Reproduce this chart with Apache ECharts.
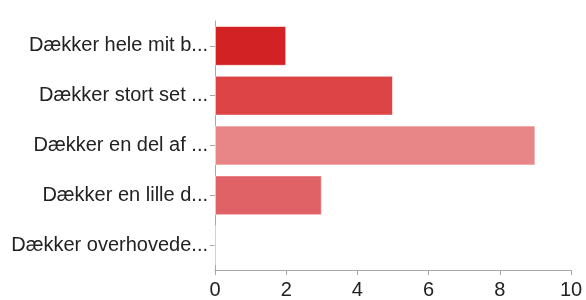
<!DOCTYPE html>
<html>
<head>
<meta charset="utf-8">
<script src="https://cdn.jsdelivr.net/npm/echarts@6/dist/echarts.min.js"></script>
<style>
  html, body { margin: 0; padding: 0; background: #fff; }
  #chart { width: 586px; height: 300px; }
</style>
</head>
<body>
<div id="chart"></div>
<script>
// svar-kategorier (afkortet som i originalen)
var categories = [
    'Dækker hele mit b...',
    'Dækker stort set ...',
    'Dækker en del af ...',
    'Dækker en lille d...',
    'Dækker overhovede...'
];
var counts = [2, 5, 9, 3, 0];
var barColors = ['#d32224', '#dc4446', '#e88586', '#e06266', '#e06266'];
var xTicks = [0, 2, 4, 6, 8, 10];

var chart = echarts.init(document.getElementById('chart'));

var barData = [];
for (var i = 0; i < counts.length; i++) {
    barData.push({
        value: counts[i],
        itemStyle: {
            color: barColors[i],
            borderColor: 'rgba(255,255,255,0.55)',
            borderWidth: 1
        }
    });
}

var option = {
    animation: false,
    grid: {
        left: 215,
        right: 15,
        top: 21,
        bottom: 25
    },
    xAxis: {
        type: 'value',
        min: xTicks[0],
        max: xTicks[xTicks.length - 1],
        interval: 2,
        splitLine: { show: false },
        axisLine: { show: true, lineStyle: { color: '#a8a8a8', width: 1 } },
        axisTick: { show: true, length: 5, lineStyle: { color: '#a8a8a8' } },
        axisLabel: {
            color: '#222',
            fontSize: 20,
            fontFamily: 'Liberation Sans',
            margin: 10
        }
    },
    yAxis: {
        type: 'category',
        inverse: true,
        data: categories,
        axisLine: { show: true, lineStyle: { color: '#a8a8a8', width: 1 } },
        axisTick: { show: true, length: 5, alignWithLabel: true, lineStyle: { color: '#a8a8a8' } },
        axisLabel: {
            color: '#222',
            fontSize: 20,
            fontFamily: 'Liberation Sans',
            margin: 7
        }
    },
    series: [{
        type: 'bar',
        data: barData,
        barCategoryGap: '20%'
    }]
};

chart.setOption(option);
</script>
</body>
</html>
